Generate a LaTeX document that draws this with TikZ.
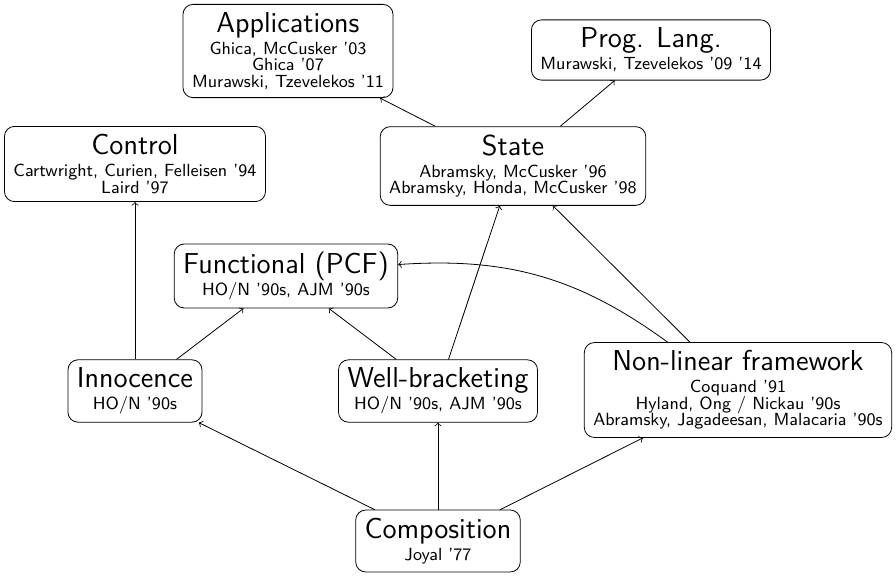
\documentclass[tikz,border=0pt]{standalone}
\usepackage{xcolor}
\usepackage{amsmath}
\usepackage{amssymb}
\usepackage{pgf}
\usepackage{tikz}
\usetikzlibrary{positioning}

\newcommand{\reffont}{\sffamily\fontsize{8.8}{8.25}\selectfont\lineskiplimit=-20pt\relax}

\begin{document}
\begin{tikzpicture}[
  box/.style={draw, rounded corners=5pt, align=center, inner xsep=4.5pt, inner ysep=4pt, font=\reffont},
  every node/.append style={on grid}
]

% nodes %
\node[box] (comp) at (0,0) {{\Large Composition}\\[2.75pt] Joyal '77};
\node[box, above left = 75pt and 151.5pt of comp] (inno) {{\Large Innocence}\\[2.75pt] HO/N '90s};
\node[box, above = 75pt of comp] (well) {{\Large Well-bracketing}\\[2.75pt] HO/N '90s, AJM '90s};
\node[box, above right = 75.5pt and 150pt of comp] (nonlin) {{\Large Non-linear framework}\\[2.75pt] Coquand '91\\ Hyland, Ong / Nickau '90s\\ Abramsky, Jagadeesan, Malacaria '90s};
\node[box, above right = 57.5pt and 75.5pt of inno] (func) {{\Large Functional (PCF)}\\[2.75pt] HO/N '90s, AJM '90s};
\node[box, above = 113.5pt of inno] (ctrl) {{\Large Control}\\[2.75pt] Cartwright, Curien, Felleisen '94\\ Laird '97};
\node[box, above right = 112.5pt and 37.5pt of well] (state) {{\Large State}\\[2.75pt] Abramsky, McCusker '96\\ Abramsky, Honda, McCusker '98};
\node[box, above left = 57.5pt and 112.5pt of state] (appl) {{\Large Applications}\\[2.75pt] Ghica, McCusker '03\\ Ghica '07\\ Murawski, Tzevelekos '11};
\node[box, above right = 58pt and 69pt of state] (prog) {{\Large Prog. Lang.}\\[2.75pt] Murawski, Tzevelekos '09 '14};

% edges %
\draw[->] (comp) -- (inno);
\draw[->] (comp) -- (well);
\draw[->] (comp) -- (nonlin);
\draw[->] (inno) -- (ctrl);
\draw[->] (inno) -- (func);
\draw[->] (well) -- (func);
\draw[->] (well) -- (state);
\draw[->] (nonlin) -- (state);
\draw[->] (nonlin) to[bend right=20] (func);
\draw[->] (state) -- (appl);
\draw[->] (state) -- (prog);

\useasboundingbox (-219pt,-17pt) rectangle (229pt,270.5pt);

\end{tikzpicture}
\end{document}
